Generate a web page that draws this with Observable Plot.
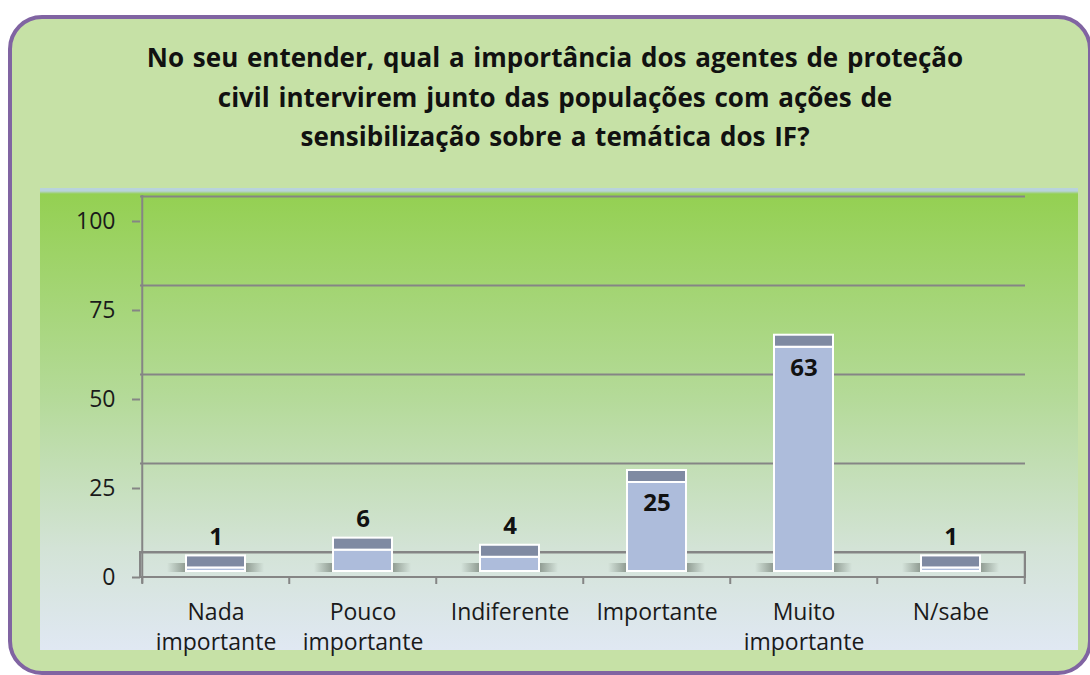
<!DOCTYPE html>
<html>
<head>
<meta charset="utf-8">
<script src="https://cdn.jsdelivr.net/npm/d3@7"></script>
<script src="https://cdn.jsdelivr.net/npm/@observablehq/plot@0.6"></script>
<style>
  html, body { margin: 0; padding: 0; background: #ffffff; }
  #box {
    position: absolute; left: 8px; top: 15px; width: 1084px; height: 660px;
    box-sizing: border-box; border: 4px solid #8064a2; border-radius: 34px;
    background: #c6e1a6;
  }
  #title {
    position: absolute; left: 100px; top: 38px; width: 910px;
    text-align: center; font-family: "Open Sans", sans-serif; font-weight: bold;
    font-size: 26px; word-spacing: 2px; line-height: 39.5px; color: #111; white-space: pre;
  }
  #chart { position: absolute; left: 40px; top: 188px; }
</style>
</head>
<body>
<div id="box"></div>
<div id="title">No seu entender, qual a importância dos agentes de proteção
civil intervirem junto das populações com ações de
sensibilização sobre a temática dos IF?</div>
<div id="chart"></div>
<script>
// ---- data ----
const categories = ["Nada importante", "Pouco importante", "Indiferente", "Importante", "Muito importante", "N/sabe"];
const tickLabels = ["Nada\nimportante", "Pouco\nimportante", "Indiferente", "Importante", "Muito\nimportante", "N/sabe"];
const values = [1, 6, 4, 25, 63, 1];
const yTicks = [0, 25, 50, 75, 100];

const data = categories.map((c, i) => ({category: c, value: values[i]}));
const labelOf = new Map(categories.map((c, i) => [c, tickLabels[i]]));

const W = 1038, H = 462;
const mL = 100, mR = 53, mT = 33, mB = 73;
const band = (W - mL - mR) / categories.length;
const grid = "#858585";

const svg = Plot.plot({
  width: W, height: H,
  marginLeft: mL, marginRight: mR, marginTop: mT, marginBottom: mB,
  style: {
    background: "linear-gradient(to bottom, #b9d3dc 0px, #b9d3dc 3px, #94d052 6px, #b4da98 45%, #d3e3d6 78%, #e0e8f3 100%)",
    fontFamily: "'Open Sans', sans-serif",
    fontSize: "23px",
    color: "#1a1a1a",
    overflow: "visible"
  },
  x: {domain: categories, padding: 0, axis: null},
  y: {domain: [0, 100], axis: null},
  marks: [
    // back-wall gridlines
    Plot.ruleY(yTicks, {dy: -25, stroke: grid, strokeWidth: 2}),
    // floor
    Plot.rect([0], {y1: d => d, y2: d => d, insetTop: -25, fill: "none", stroke: grid, strokeWidth: 2}),
    // y axis line
    Plot.ruleX([categories[0]], {dx: -band / 2, insetTop: -26, insetBottom: -6, stroke: grid, strokeWidth: 2}),
    // x ticks at band boundaries
    Plot.ruleX(categories, {dx: -band / 2, y1: 0, y2: 0, insetBottom: -7, stroke: grid, strokeWidth: 2}),
    Plot.ruleX([categories[categories.length - 1]], {dx: band / 2, y1: 0, y2: 0, insetTop: -25, insetBottom: -7, stroke: grid, strokeWidth: 2}),
    Plot.axisY({ticks: yTicks, tickSize: 8, tickPadding: 17, stroke: grid, strokeWidth: 2, fill: "#1a1a1a", fontSize: 23, label: null}),
    Plot.axisX({tickSize: 0, tickPadding: 21, tickFormat: d => labelOf.get(d), lineHeight: 1.32, fill: "#1a1a1a", fontSize: 23, label: null}),
    // floor shadows
    Plot.barY(data, {x: "category", y1: 0, y2: 0, insetTop: -14, insetBottom: 5, insetLeft: 25, insetRight: 25, fill: "url(#shadowGrad)"}),
    // bar front faces
    Plot.barY(data, {x: "category", y: "value", dy: -6, insetLeft: 44, insetRight: 44, fill: "#adbcdb", stroke: "#ffffff", strokeWidth: 2}),
    // bar top faces
    Plot.barY(data, {x: "category", y1: "value", y2: "value", dy: -6, insetTop: -12, insetLeft: 44, insetRight: 44, fill: "#7f8aa2", stroke: "#ffffff", strokeWidth: 2}),
    // value labels
    Plot.text(data.filter(d => d.value < 20), {x: "category", y: "value", text: d => String(d.value), dy: -37, fontWeight: "bold", fontSize: 24, fill: "#111"}),
    Plot.text(data.filter(d => d.value >= 20), {x: "category", y: "value", text: d => String(d.value), dy: 15, fontWeight: "bold", fontSize: 24, fill: "#111"})
  ]
});

svg.insertAdjacentHTML("afterbegin",
  '<defs><linearGradient id="shadowGrad" x1="0" x2="1" y1="0" y2="0">' +
  '<stop offset="0" stop-color="#6f7a70" stop-opacity="0"/>' +
  '<stop offset="0.25" stop-color="#6f7a70" stop-opacity="0.9"/>' +
  '<stop offset="0.75" stop-color="#6f7a70" stop-opacity="0.9"/>' +
  '<stop offset="1" stop-color="#6f7a70" stop-opacity="0"/>' +
  '</linearGradient></defs>');

document.getElementById("chart").appendChild(svg);
</script>
</body>
</html>
